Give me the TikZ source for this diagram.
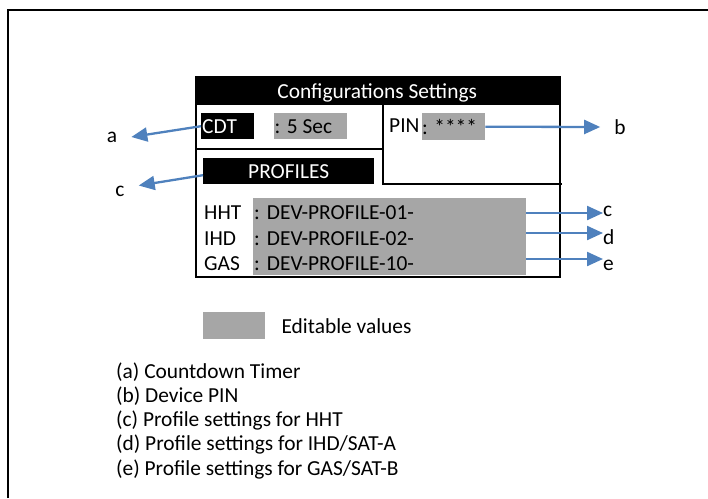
\documentclass[tikz,border=0pt]{standalone}
\usepackage{fontspec}
\setmainfont{Carlito}
\usetikzlibrary{arrows.meta,positioning,calc}
\definecolor{azul}{RGB}{79,129,189}
\definecolor{grisv}{RGB}{166,166,166}
\tikzset{
  negro/.style={fill=black, text=white, inner sep=0pt, align=flush left},
  gris/.style={fill=grisv, inner sep=0pt, align=flush left},
  txt/.style={inner sep=0pt, anchor=base west},
  linea/.style={line width=2pt},
  fl/.style={-{Triangle[length=16pt,width=14pt]}, line width=2.3pt, azul},
  et/.style={inner ysep=0pt, inner xsep=14pt},
}
\begin{document}
\begin{tikzpicture}[x=1pt, y=-1pt, font=\fontsize{21.4}{24}\selectfont]
  \useasboundingbox (0,0) rectangle (708,498);
  \draw[linea] (8,498) |- (708,10);
  % title and first row
  \node[negro, anchor=north west, minimum width=364pt, minimum height=29pt, text depth=0pt, align=center] (tit) at (195,76) {Configurations Settings};
  \node[negro, anchor=north west, minimum height=26pt, text width=51pt, inner xsep=1pt] (cdt) at (201,113) {CDT};
  \node[gris, anchor=north west, minimum height=26pt, text width=72pt, inner xsep=0.5pt] (seg) at (274,113) {: 5 Sec};
  \node[anchor=west, inner sep=0pt] (pin) at (389,126) {PIN};
  \node[gris, anchor=north west, minimum height=27pt, text width=63pt] (pinv) at (422,113) {: ****};
  % profiles
  \node[negro, anchor=north west, minimum width=171pt, minimum height=26pt, align=center] (prof) at (203,158) {PROFILES};
  \node[gris, anchor=north west, minimum width=273pt, minimum height=77pt] (valores) at (253,198) {};
  \node[txt] (hht) at (204,219) {HHT};
  \node[txt] (ihd) at (204,245) {IHD};
  \node[txt] (gas) at (204,270) {GAS};
  \node[txt] (v1) at (254,219) {:\hspace{7pt}DEV-PROFILE-01-};
  \node[txt] (v2) at (254,245) {:\hspace{7pt}DEV-PROFILE-02-};
  \node[txt] (v3) at (254,270) {:\hspace{7pt}DEV-PROFILE-10-};
  \node[draw, linea, anchor=north west, minimum width=364pt, minimum height=200pt, inner sep=0pt] (panel) at (195,76) {};
  \coordinate (div) at (383,184);
  \draw[linea] (panel.west |- 0,149) -- (div |- 0,149);
  \draw[linea] (div |- tit.south) -- (div) -- (562,184);
  % labels and arrows
  \node[et] (a) at (112,137) {a};
  \node[et] (cl) at (120,191) {c};
  \node[et] (b) at (620,127) {b};
  \node[txt] (cr) at (603,216) {c};
  \node[txt] (dr) at (603,244) {d};
  \node[txt] (er) at (603,270) {e};
  \draw[fl] (cdt.west) -- (a.east);
  \draw[fl] ([yshift=-4pt]prof.west) -- (cl.north east);
  \draw[fl] (pinv.east) -- (b.west);
  \draw[fl] (valores.east |- 0,213) -- (cr.west |- 0,213);
  \draw[fl] (valores.east |- 0,233) -- (dr.west |- 0,233);
  \draw[fl] (valores.east |- 0,259) -- (er.west |- 0,259);
  % legend
  \node[gris, anchor=north west, minimum width=62pt, minimum height=27pt] (muestra) at (203,312) {};
  \node[inner sep=0pt, right=16pt of muestra] (edit) {Editable values};
  \node[txt] (la) at (116,378) {(a) Countdown Timer};
  \node[txt] (lb) at (116,402.3) {(b) Device PIN};
  \node[txt] (lc) at (116,426.6) {(c) Profile settings for HHT};
  \node[txt] (ld) at (116,450.9) {(d) Profile settings for IHD/SAT-A};
  \node[txt] (le) at (116,475.2) {(e) Profile settings for GAS/SAT-B};
\end{tikzpicture}
\end{document}
